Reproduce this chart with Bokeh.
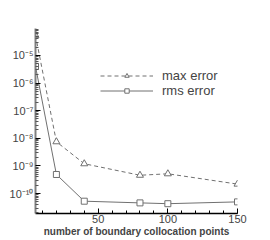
from bokeh.plotting import figure
from bokeh.models import Range1d, FixedTicker, Legend, LegendItem
from bokeh.embed import file_html
from bokeh.resources import INLINE

# data
points = [5, 20, 40, 80, 100, 150]
max_error = [5.3e-5, 7.5e-9, 1.2e-9, 4.6e-10, 5.2e-10, 2.2e-10]
rms_error = [4.0e-6, 4.9e-10, 5.3e-11, 4.6e-11, 4.3e-11, 5.0e-11]
x_ticks = [50, 100, 150]
y_ticks = [1e-10, 1e-9, 1e-8, 1e-7, 1e-6, 1e-5]
y_tick_labels = ["10⁻¹⁰", "10⁻⁹", "10⁻⁸", "10⁻⁷", "10⁻⁶", "10⁻⁵"]
x_label = "number of boundary collocation points"

p = figure(frame_width=202, frame_height=185, y_axis_type="log",
           output_backend="svg", toolbar_location=None,
           x_range=Range1d(5, 150), y_range=Range1d(1.9e-11, 9.4e-5),
           min_border_left=35, min_border_right=25, min_border_top=28,
           min_border_bottom=0)
p.outline_line_color = None
p.grid.visible = False

xa = p.xaxis[0]
xa.ticker = FixedTicker(ticks=x_ticks, minor_ticks=list(range(10, 151, 10)))
xa.axis_label = x_label
xa.axis_label_text_font = "Liberation Sans"
xa.axis_label_text_font_style = "bold"
xa.axis_label_text_font_size = "10px"
xa.axis_label_standoff = 0
xa.major_label_text_font = "Liberation Sans"
xa.major_label_text_font_size = "11px"
xa.major_label_standoff = 1
xa.axis_line_color = "black"
xa.axis_line_width = 1.5
xa.major_tick_in = 5
xa.major_tick_out = 0
xa.minor_tick_in = 3
xa.minor_tick_out = 0

ya = p.yaxis[0]
minor = [m * 10.0**e for e in range(-11, -3) for m in range(2, 10)]
ya.ticker = FixedTicker(ticks=y_ticks, minor_ticks=minor)
ya.major_label_overrides = {t: l for t, l in zip(y_ticks, y_tick_labels)}
ya.major_label_text_font = "Liberation Sans"
ya.major_label_text_font_size = "11px"
ya.major_label_standoff = 2
ya.axis_line_color = "#808080"
ya.axis_line_width = 2
ya.major_tick_in = 5
ya.major_tick_out = 0
ya.minor_tick_in = 3
ya.minor_tick_out = 0
ya.major_tick_line_color = "black"
ya.minor_tick_line_color = "#555555"

lc = "#707070"
l1 = p.line(points, max_error, line_color=lc, line_width=1, line_dash="4 3")
m1 = p.scatter(points, max_error, marker="triangle", size=7, line_color=lc,
               fill_color="white", line_width=1)
l2 = p.line(points, rms_error, line_color=lc, line_width=1)
m2 = p.scatter(points, rms_error, marker="square", size=6, line_color=lc,
               fill_color="white", line_width=1)

legend = Legend(items=[LegendItem(label="max error", renderers=[l1, m1]),
                       LegendItem(label="rms error", renderers=[l2, m2])],
                location=(65, 115), glyph_width=53, glyph_height=11,
                label_height=11, label_standoff=9, spacing=-3, padding=0,
                margin=0, border_line_color=None, background_fill_alpha=0,
                label_text_font="Liberation Sans", label_text_font_size="13px")
p.add_layout(legend)

open("out.html", "w").write(file_html(p, INLINE))
